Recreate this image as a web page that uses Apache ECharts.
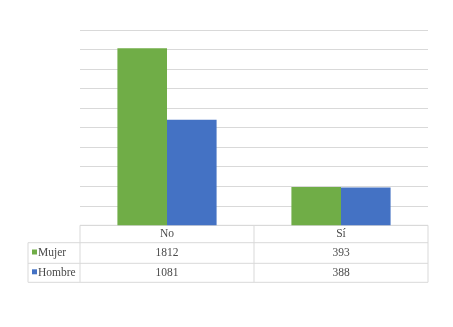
<!DOCTYPE html>
<html><head><meta charset="utf-8">
<script src="https://cdn.jsdelivr.net/npm/echarts@6/dist/echarts.min.js"></script>
<style>html,body{margin:0;padding:0;background:#fff}#c{width:453px;height:327px}</style>
</head><body><div id="c"></div>
<script>
var categories = ['No', 'Sí'];
var seriesNames = ['Mujer', 'Hombre'];
var mujer = [1812, 393];
var hombre = [1081, 388];
var colors = ['#70ad47', '#4472c4'];

var G = {left: 80, right: 25, top: 30, bottom: 101.7};
var W = 453, H = 327;
var x0 = G.left, x1 = W - G.right, yBase = H - G.bottom;
var rowH = [17.4, 20.6, 19];
var legendLeft = 28;
var font = '"Liberation Serif", "DejaVu Serif", serif';
var txt = '#4a4a4a', lineC = '#d9d9d9';

var chart = echarts.init(document.getElementById('c'));
var option = {
  animation: false,
  grid: G,
  xAxis: {type: 'category', data: categories, axisLine: {show: false}, axisTick: {show: false}, axisLabel: {show: false}},
  yAxis: {type: 'value', min: 0, max: 2000, interval: 200, axisLabel: {show: false}, axisLine: {show: false}, axisTick: {show: false},
    splitLine: {lineStyle: {color: lineC, width: 1}}},
  series: [
    {name: seriesNames[0], type: 'bar', data: mujer, itemStyle: {color: colors[0]}, barGap: '0%', barCategoryGap: '43%'},
    {name: seriesNames[1], type: 'bar', data: hombre, itemStyle: {color: colors[1]}, barGap: '0%', barCategoryGap: '43%'}
  ]
};
chart.setOption(option);

var g = [];
var y1 = yBase + rowH[0], y2 = y1 + rowH[1], y3 = y2 + rowH[2];
function line(xa, ya, xb, yb) {
  g.push({type: 'line', silent: true, shape: {x1: xa, y1: ya, x2: xb, y2: yb}, style: {stroke: lineC, lineWidth: 1}});
}
line(x0, yBase, x1, yBase);
line(legendLeft, y1, x1, y1);
line(legendLeft, y2, x1, y2);
line(legendLeft, y3, x1, y3);
line(legendLeft, y1, legendLeft, y3);
line(x0, yBase, x0, y3);
var cw = (x1 - x0) / categories.length;
for (var i = 1; i <= categories.length; i++) line(x0 + cw * i, yBase, x0 + cw * i, y3);
function text(s, x, y, align) {
  g.push({type: 'text', silent: true, x: x, y: y, style: {text: s, fill: txt, font: '11.5px ' + font, align: align || 'center', verticalAlign: 'middle'}});
}
var rows = [mujer, hombre];
var rowY = [(y1 + y2) / 2, (y2 + y3) / 2];
categories.forEach(function (c, i) {
  var cx = chart.convertToPixel({xAxisIndex: 0}, c);
  text(c, cx, (yBase + y1) / 2);
  rows.forEach(function (r, j) { text(String(r[i]), cx, rowY[j]); });
});
seriesNames.forEach(function (n, j) {
  g.push({type: 'rect', silent: true, shape: {x: legendLeft + 4, y: rowY[j] - 3.5, width: 5, height: 5}, style: {fill: colors[j]}});
  text(n, legendLeft + 10, rowY[j], 'left');
});
chart.setOption({graphic: g});
</script></body></html>
